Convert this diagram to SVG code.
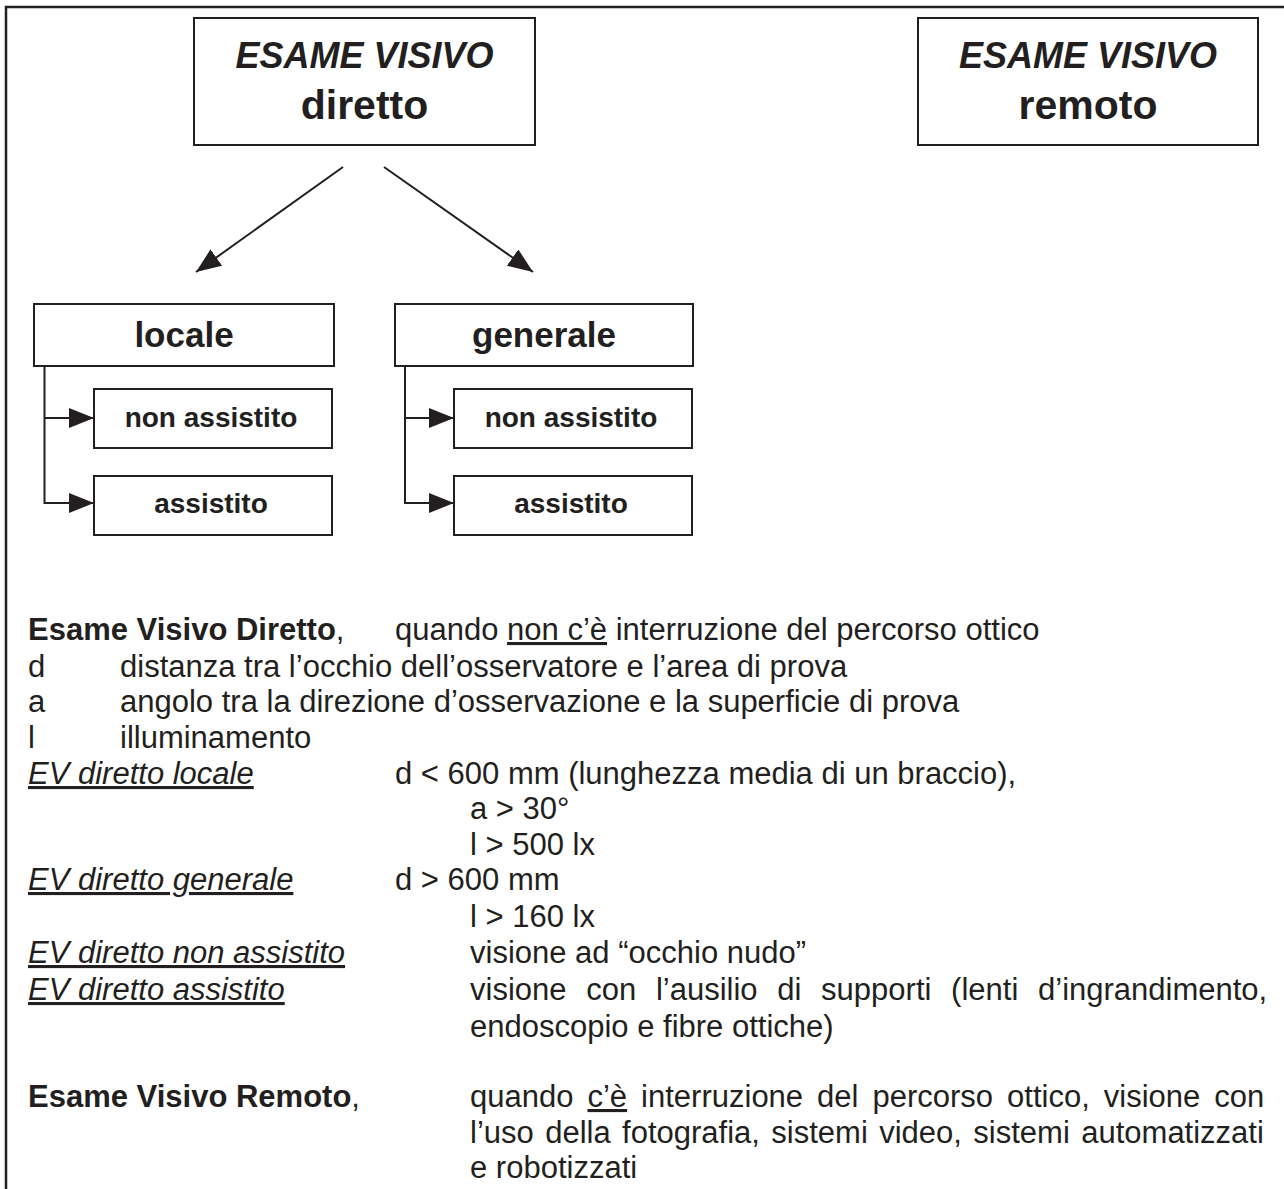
<svg xmlns="http://www.w3.org/2000/svg" width="1284" height="1189" viewBox="0 0 1284 1189">
<style>
.box{fill:#fff;stroke:#231f20;stroke-width:2}
.frame{fill:none;stroke:#231f20;stroke-width:2.5}
.ln{fill:none;stroke:#231f20;stroke-width:2}
text{font-family:"Liberation Sans",Arial,sans-serif;fill:#231f20}
.t1{font-size:36px;font-weight:bold;font-style:italic}
.t2{font-size:41px;font-weight:bold}
.t3{font-size:35px;font-weight:bold}
.t4{font-size:28px;font-weight:bold}
.b{font-size:31px}
.bold{font-weight:bold}
.it{font-style:italic;text-decoration:underline}
.u{text-decoration:underline}
</style>
<defs>
<marker id="ah" markerUnits="userSpaceOnUse" markerWidth="26" markerHeight="22" refX="25" refY="10" orient="auto">
<path d="M0,0 L25,10 L0,20 Z" fill="#231f20"/>
</marker>
</defs>
<path class="frame" d="M6,1189 V7 H1284"/>
<g id="node-diretto">
<rect class="box" x="194" y="18" width="341" height="127"/>
<text class="t1" x="364.5" y="68" text-anchor="middle">ESAME VISIVO</text>
<text class="t2" x="364.5" y="119" text-anchor="middle">diretto</text>
</g>
<g id="node-remoto">
<rect class="box" x="918" y="18" width="340" height="127"/>
<text class="t1" x="1088" y="68" text-anchor="middle">ESAME VISIVO</text>
<text class="t2" x="1088" y="119" text-anchor="middle">remoto</text>
</g>
<g id="node-locale">
<rect class="box" x="34" y="304" width="300" height="62"/>
<text class="t3" x="184" y="347" text-anchor="middle">locale</text>
</g>
<g id="node-generale">
<rect class="box" x="395" y="304" width="298" height="62"/>
<text class="t3" x="544" y="347" text-anchor="middle">generale</text>
</g>
<g id="node-locale-non-assistito">
<rect class="box" x="94" y="389" width="238" height="59"/>
<text class="t4" x="211" y="427" text-anchor="middle">non assistito</text>
</g>
<g id="node-locale-assistito">
<rect class="box" x="94" y="476" width="238" height="59"/>
<text class="t4" x="211" y="513" text-anchor="middle">assistito</text>
</g>
<g id="node-generale-non-assistito">
<rect class="box" x="454" y="389" width="238" height="59"/>
<text class="t4" x="571" y="427" text-anchor="middle">non assistito</text>
</g>
<g id="node-generale-assistito">
<rect class="box" x="454" y="476" width="238" height="59"/>
<text class="t4" x="571" y="513" text-anchor="middle">assistito</text>
</g>
<g id="connectors">
<line class="ln" x1="343" y1="167" x2="196" y2="272" marker-end="url(#ah)"/>
<line class="ln" x1="384" y1="167" x2="533" y2="272" marker-end="url(#ah)"/>
<path class="ln" d="M44.5,366 V503 H94" marker-end="url(#ah)"/>
<path class="ln" d="M44.5,418 H94" marker-end="url(#ah)"/>
<path class="ln" d="M405,366 V503 H454" marker-end="url(#ah)"/>
<path class="ln" d="M405,418 H454" marker-end="url(#ah)"/>
</g>
<g id="legend" class="b">
<text class="b" x="28" y="640"><tspan class="bold">Esame Visivo Diretto</tspan>,</text>
<text class="b" x="395" y="640">quando <tspan class="u">non c’è</tspan> interruzione del percorso ottico</text>
<text class="b" x="28" y="677">d</text>
<text class="b" x="120" y="677">distanza tra l’occhio dell’osservatore e l’area di prova</text>
<text class="b" x="28" y="712">a</text>
<text class="b" x="120" y="712">angolo tra la direzione d’osservazione e la superficie di prova</text>
<text class="b" x="28" y="748">l</text>
<text class="b" x="120" y="748">illuminamento</text>
<text class="b it" x="28" y="784">EV diretto locale</text>
<text class="b" x="395" y="784">d &lt; 600 mm (lunghezza media di un braccio),</text>
<text class="b" x="470" y="819">a &gt; 30°</text>
<text class="b" x="470" y="855">l &gt; 500 lx</text>
<text class="b it" x="28" y="890">EV diretto generale</text>
<text class="b" x="395" y="890">d &gt; 600 mm</text>
<text class="b" x="470" y="927">l &gt; 160 lx</text>
<text class="b it" x="28" y="963">EV diretto non assistito</text>
<text class="b" x="470" y="963">visione ad “occhio nudo”</text>
<text class="b it" x="28" y="1000">EV diretto assistito</text>
<text class="b" x="470" y="1000" word-spacing="11.1">visione con l’ausilio di supporti (lenti d’ingrandimento,</text>
<text class="b" x="470" y="1037">endoscopio e fibre ottiche)</text>
<text class="b" x="28" y="1107"><tspan class="bold">Esame Visivo Remoto</tspan>,</text>
<text class="b" x="470" y="1107" word-spacing="5.4">quando <tspan class="u">c’è</tspan> interruzione del percorso ottico, visione con</text>
<text class="b" x="470" y="1143" word-spacing="2.8">l’uso della fotografia, sistemi video, sistemi automatizzati</text>
<text class="b" x="470" y="1178">e robotizzati</text>
</g>
</svg>
